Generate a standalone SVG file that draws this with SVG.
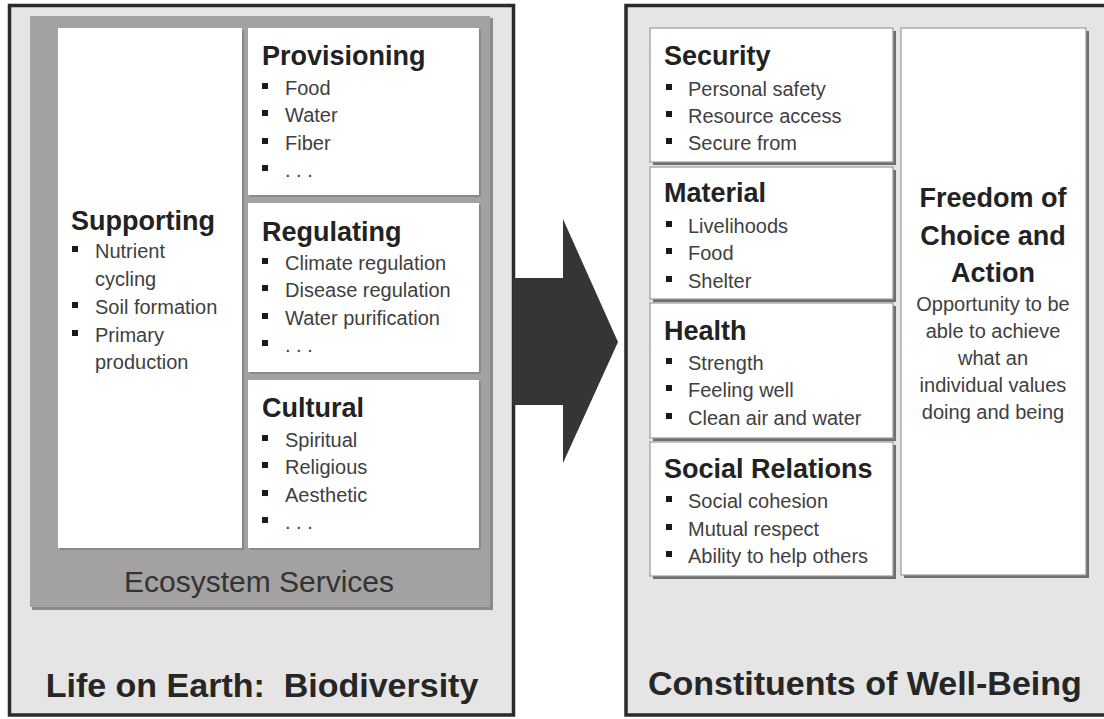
<svg xmlns="http://www.w3.org/2000/svg" width="1104" height="719" viewBox="0 0 1104 719">
<style>
text{font-family:"Liberation Sans",Arial,sans-serif;}
.frame{fill:#e5e5e5;stroke:#2b2b2b;stroke-width:3.5;}
.panel{fill:#a3a1a1;}
.pshadow{fill:#8c8a8a;}
.lbox{fill:#ffffff;}
.lshadow{fill:#8a8888;}
.rbox{fill:#ffffff;stroke:#9a9a9a;stroke-width:1.2;}
.rshadow{fill:#6f6f6f;}
.title{font-size:27px;font-weight:bold;fill:#222;}
.item{font-size:20px;fill:#404040;}
.big{font-size:34px;font-weight:bold;fill:#262626;white-space:pre;}
.eco{font-size:30px;fill:#333;}
.free{font-size:27px;font-weight:bold;fill:#222;text-anchor:middle;}
.fsub{font-size:20px;fill:#404040;text-anchor:middle;}
.bul{fill:#1a1a1a;}
</style>
<defs>
<rect id="b" class="bul" width="6" height="6"/>
</defs>
<rect width="1104" height="719" fill="#ffffff"/>

<g id="life-on-earth">
<rect class="frame" x="9.5" y="5.5" width="504" height="709.5"/>
<text class="big" x="262" y="697" text-anchor="middle" xml:space="preserve">Life on Earth:  Biodiversity</text>
</g>

<g id="ecosystem-services">
<rect class="pshadow" x="32" y="18" width="461" height="592"/>
<rect class="panel" x="30" y="16" width="460" height="591"/>
<text class="eco" x="259" y="592" text-anchor="middle">Ecosystem Services</text>
</g>

<g id="supporting">
<rect class="lshadow" x="60" y="30" width="184" height="520"/>
<rect class="lbox" x="58" y="28" width="184" height="520"/>
<text class="title" x="71" y="230">Supporting</text>
<use href="#b" x="72" y="246"/><text class="item" x="95" y="258">Nutrient</text>
<text class="item" x="95" y="286">cycling</text>
<use href="#b" x="72" y="302"/><text class="item" x="95" y="314">Soil formation</text>
<use href="#b" x="72" y="330"/><text class="item" x="95" y="342">Primary</text>
<text class="item" x="95" y="369">production</text>
</g>

<g id="provisioning">
<rect class="lshadow" x="250" y="30" width="231" height="167"/>
<rect class="lbox" x="248" y="28" width="231" height="167"/>
<text class="title" x="262" y="65">Provisioning</text>
<use href="#b" x="262" y="83"/><text class="item" x="285" y="95">Food</text>
<use href="#b" x="262" y="110"/><text class="item" x="285" y="122">Water</text>
<use href="#b" x="262" y="138"/><text class="item" x="285" y="150">Fiber</text>
<use href="#b" x="262" y="165"/><text class="item" x="285" y="177">. . .</text>
</g>

<g id="regulating">
<rect class="lshadow" x="250" y="205" width="231" height="169"/>
<rect class="lbox" x="248" y="203" width="231" height="169"/>
<text class="title" x="262" y="241">Regulating</text>
<use href="#b" x="262" y="258"/><text class="item" x="285" y="270">Climate regulation</text>
<use href="#b" x="262" y="285"/><text class="item" x="285" y="297">Disease regulation</text>
<use href="#b" x="262" y="313"/><text class="item" x="285" y="325">Water purification</text>
<use href="#b" x="262" y="340"/><text class="item" x="285" y="352">. . .</text>
</g>

<g id="cultural">
<rect class="lshadow" x="250" y="382" width="231" height="168"/>
<rect class="lbox" x="248" y="380" width="231" height="168"/>
<text class="title" x="262" y="417">Cultural</text>
<use href="#b" x="262" y="435"/><text class="item" x="285" y="447">Spiritual</text>
<use href="#b" x="262" y="462"/><text class="item" x="285" y="474">Religious</text>
<use href="#b" x="262" y="490"/><text class="item" x="285" y="502">Aesthetic</text>
<use href="#b" x="262" y="517"/><text class="item" x="285" y="529">. . .</text>
</g>

<g id="connectors">
<polygon points="513,278 563,278 563,219 618,342 563,463 563,405 513,405" fill="#343536"/>
</g>

<g id="constituents-of-well-being">
<rect class="frame" x="626" y="5.5" width="490" height="709.5"/>
<text class="big" x="648" y="695">Constituents of Well-Being</text>
</g>

<g id="security">
<rect class="rshadow" x="653" y="31" width="243" height="134"/>
<rect class="rbox" x="650" y="28" width="243" height="134"/>
<text class="title" x="664" y="65">Security</text>
<use href="#b" x="666" y="84"/><text class="item" x="688" y="96">Personal safety</text>
<use href="#b" x="666" y="111"/><text class="item" x="688" y="123">Resource access</text>
<use href="#b" x="666" y="138"/><text class="item" x="688" y="150">Secure from</text>
</g>

<g id="material">
<rect class="rshadow" x="653" y="170" width="243" height="132"/>
<rect class="rbox" x="650" y="167" width="243" height="132"/>
<text class="title" x="664" y="202">Material</text>
<use href="#b" x="666" y="221"/><text class="item" x="688" y="233">Livelihoods</text>
<use href="#b" x="666" y="248"/><text class="item" x="688" y="260">Food</text>
<use href="#b" x="666" y="276"/><text class="item" x="688" y="288">Shelter</text>
</g>

<g id="health">
<rect class="rshadow" x="653" y="306" width="243" height="135"/>
<rect class="rbox" x="650" y="303" width="243" height="135"/>
<text class="title" x="664" y="340">Health</text>
<use href="#b" x="666" y="358"/><text class="item" x="688" y="370">Strength</text>
<use href="#b" x="666" y="385"/><text class="item" x="688" y="397">Feeling well</text>
<use href="#b" x="666" y="413"/><text class="item" x="688" y="425">Clean air and water</text>
</g>

<g id="social-relations">
<rect class="rshadow" x="653" y="445" width="243" height="134"/>
<rect class="rbox" x="650" y="442" width="243" height="134"/>
<text class="title" x="664" y="478">Social Relations</text>
<use href="#b" x="666" y="496"/><text class="item" x="688" y="508">Social cohesion</text>
<use href="#b" x="666" y="524"/><text class="item" x="688" y="536">Mutual respect</text>
<use href="#b" x="666" y="551"/><text class="item" x="688" y="563">Ability to help others</text>
</g>

<g id="freedom">
<rect class="rshadow" x="904" y="31" width="185" height="547"/>
<rect class="rbox" x="901" y="28" width="185" height="547"/>
<text class="free" x="993" y="207">Freedom of</text>
<text class="free" x="993" y="245">Choice and</text>
<text class="free" x="993" y="282">Action</text>
<text class="fsub" x="993" y="311">Opportunity to be</text>
<text class="fsub" x="993" y="338">able to achieve</text>
<text class="fsub" x="993" y="365">what an</text>
<text class="fsub" x="993" y="392">individual values</text>
<text class="fsub" x="993" y="419">doing and being</text>
</g>
</svg>
